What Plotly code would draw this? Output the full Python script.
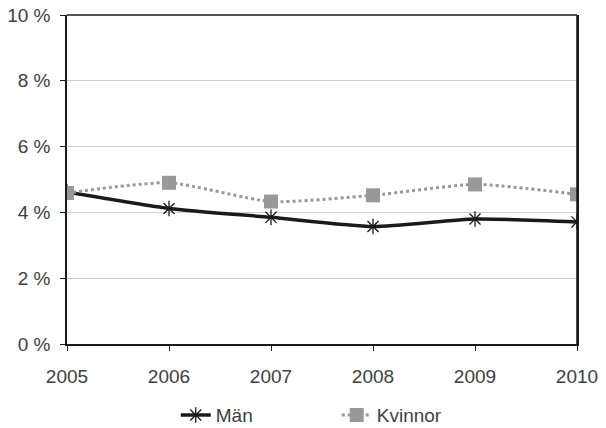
import plotly.graph_objects as go

years = [2005, 2006, 2007, 2008, 2009, 2010]
man = [4.62, 4.12, 3.85, 3.57, 3.80, 3.71]
kvinnor = [4.59, 4.90, 4.33, 4.52, 4.85, 4.55]
y_ticks = [0, 2, 4, 6, 8, 10]
y_labels = ["0 %", "2 %", "4 %", "6 %", "8 %", "10 %"]

fig = go.Figure()
fig.add_trace(go.Scatter(
    x=years, y=man, name="Män", mode="lines+markers",
    line=dict(color="#1a1a1a", width=3.5, shape="spline", smoothing=0.6),
    marker=dict(symbol="asterisk-open", size=13, color="#1a1a1a",
                line=dict(color="#1a1a1a", width=1.3)),
))
fig.add_trace(go.Scatter(
    x=years, y=kvinnor, name="Kvinnor", mode="lines+markers",
    line=dict(color="#999999", width=3, dash="dot", shape="spline", smoothing=0.6),
    marker=dict(symbol="square", size=14, color="#999999"),
))

fig.update_layout(
    width=606, height=428,
    margin=dict(l=67, r=29, t=15, b=84),
    paper_bgcolor="white", plot_bgcolor="white",
    font=dict(family="Liberation Sans, Arial, sans-serif", size=19, color="#404040"),
    showlegend=True,
    legend=dict(orientation="h", x=0.29, xanchor="left", xref="container",
                y=0.03, yanchor="middle", yref="container",
                font=dict(size=19, color="#404040"), entrywidth=116),
    xaxis=dict(range=[2005, 2010], tickvals=years, ticktext=[str(y) for y in years],
               showgrid=False, showline=True, linecolor="#1a1a1a", linewidth=1.5,
               mirror=False, ticks="outside", ticklen=5, tickcolor="#1a1a1a",
               zeroline=False, automargin=False, ticklabelstandoff=9),
    yaxis=dict(range=[0, 10], tickvals=y_ticks, ticktext=y_labels,
               showgrid=True, gridcolor="#d0d0d0", gridwidth=1,
               showline=True, linecolor="#1a1a1a", linewidth=1.5, mirror=True,
               ticks="outside", ticklen=5, tickcolor="#1a1a1a", zeroline=False,
               automargin=False, ticklabelstandoff=6),
)
fig.add_shape(type="line", xref="paper", yref="paper", x0=0, x1=1, y0=1, y1=1,
              line=dict(color="#1a1a1a", width=1.5))
fig.add_shape(type="line", xref="paper", yref="paper", x0=1, x1=1, y0=0, y1=1,
              line=dict(color="#1a1a1a", width=1.5))

fig.write_html("out.html", config={"displayModeBar": False},
               post_script="document.body.style.margin='0';")
